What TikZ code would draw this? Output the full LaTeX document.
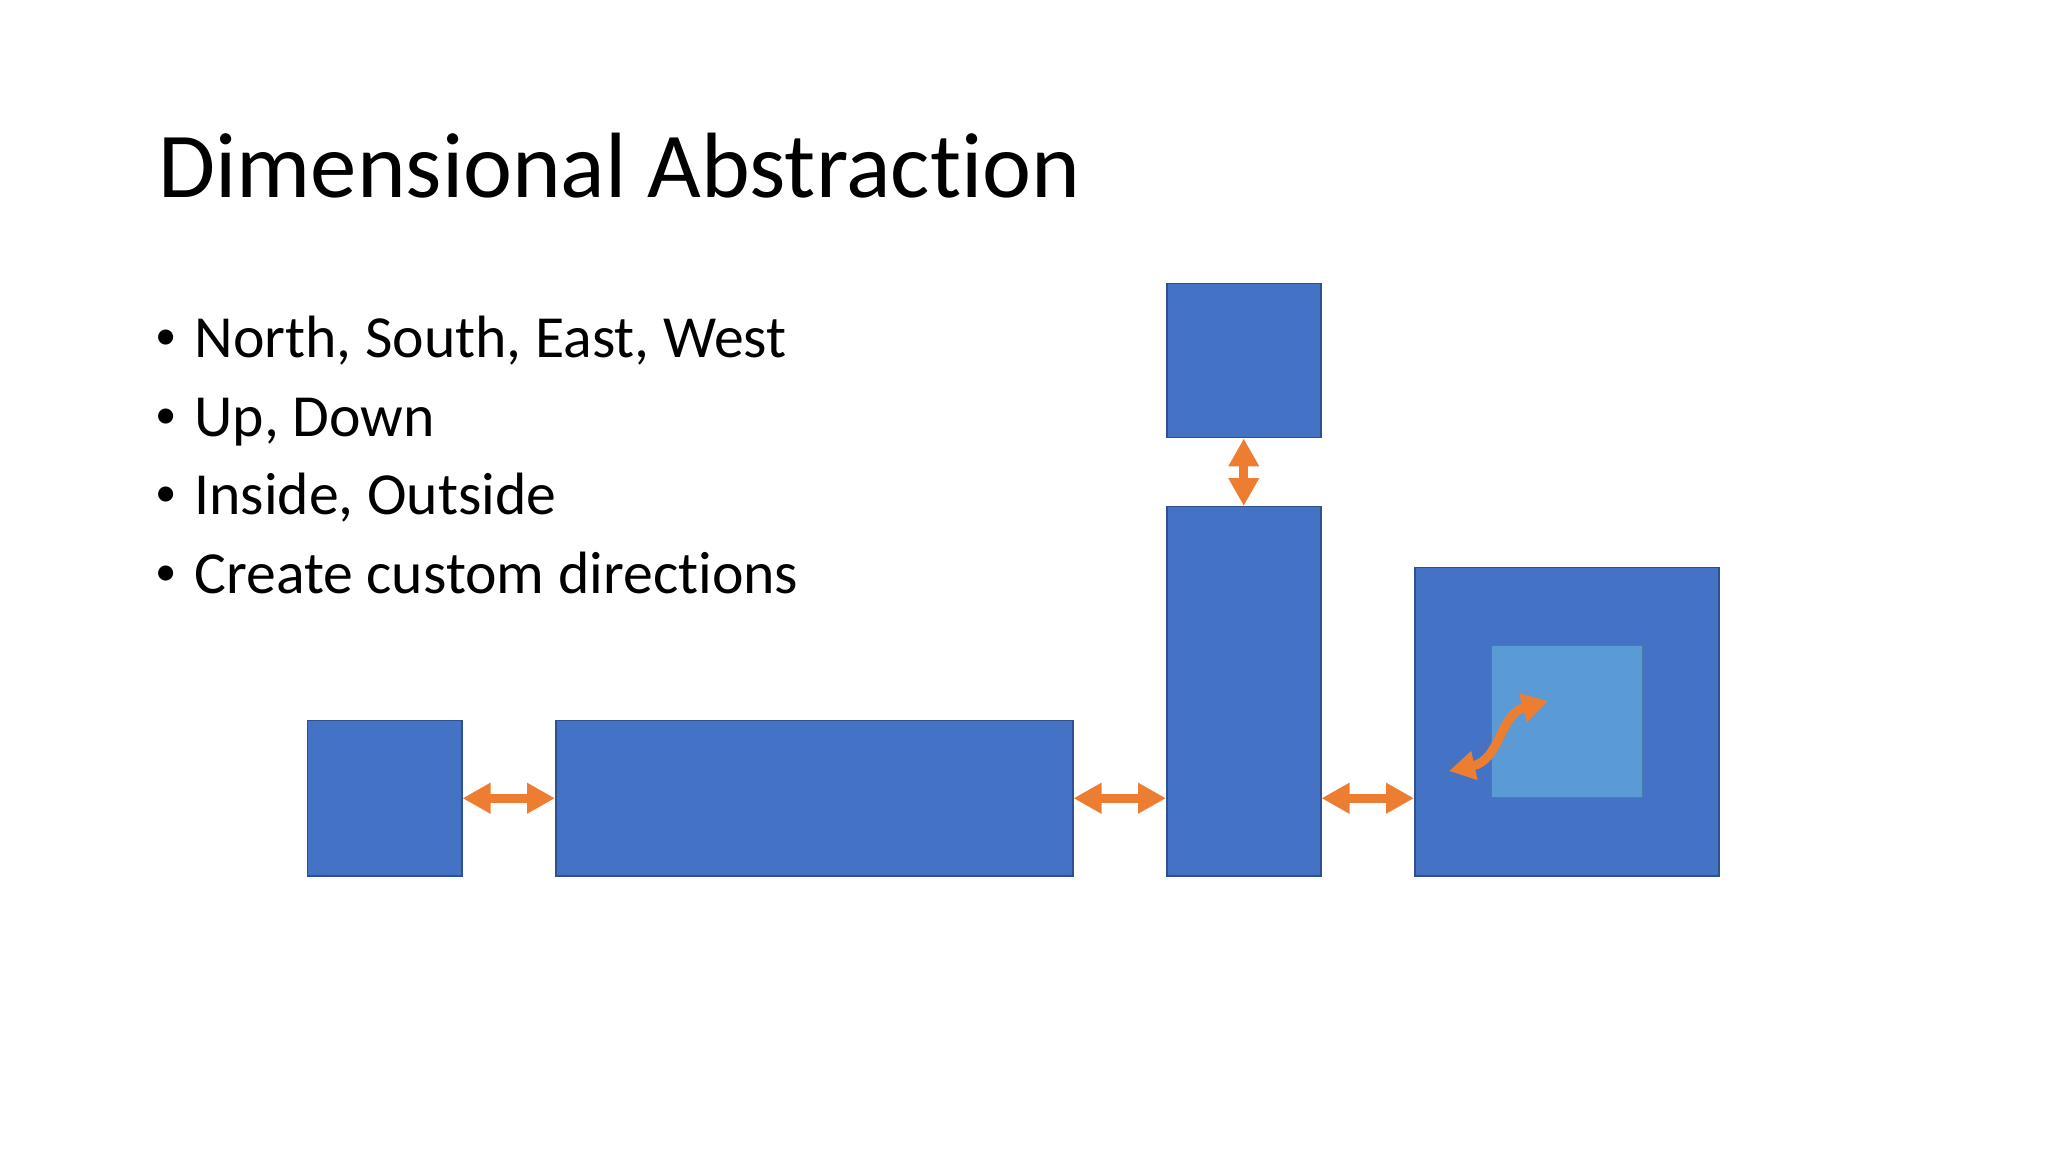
\documentclass[tikz,border=0pt]{standalone}
\usepackage{fontspec}
\setmainfont{Carlito}[Ligatures=NoCommon]
\usetikzlibrary{arrows.meta}
\definecolor{boxblue}{HTML}{4472C4}
\definecolor{boxedge}{HTML}{2F528F}
\definecolor{lightblue}{HTML}{5B9BD5}
\definecolor{arrorange}{HTML}{ED7D31}
\newcommand\px{0.46875pt}
\tikzset{
  box/.style={fill=boxblue, draw=boxedge, line width=0.7pt, inner sep=0pt, anchor=north west},
  innerbox/.style={fill=lightblue, draw=lightblue!80!black, line width=0.4pt, inner sep=0pt, anchor=north west},
  dbl/.style={draw=arrorange, line width=9*\px, line cap=butt,
    {Triangle[length=28*\px, width=29*\px]}-{Triangle[length=28*\px, width=29*\px]}},
  titletext/.style={anchor=base west, inner sep=0pt, font=\fontsize{43.5pt}{50pt}\selectfont},
  bullettext/.style={anchor=base west, inner sep=0pt, font=\fontsize{28pt}{33pt}\selectfont},
  bulletmark/.style={anchor=base, inner sep=0pt, font=\fontsize{20pt}{24pt}\selectfont},
}
\begin{document}
\begin{tikzpicture}[x=\px, y=-\px]
\fill[white] (0,0) rectangle (2048,1152);
\useasboundingbox (0,0) rectangle (2048,1152);
\node[titletext] (title) at (158,198) {Dimensional Abstraction};
\node[bullettext] (l1) at (194,357) {North, South, East, West};
\node[bullettext] (l2) at (194,436) {Up, Down};
\node[bullettext] (l3) at (194,514) {Inside, Outside};
\node[bullettext] (l4) at (194,593) {Create custom directions};
\foreach \yy/\nm in {349/d1,428/d2,506/d3,585/d4}
  \node[bulletmark] (\nm) at (166,\yy) {•};
% boxes
\node[box, minimum width=154*\px, minimum height=155*\px] (b1) at (307,720) {};
\node[box, minimum width=517*\px, minimum height=155*\px] (b2) at (555,720) {};
\node[box, minimum width=154*\px, minimum height=369*\px] (tall) at (1166,506) {};
\node[box, minimum width=154*\px, minimum height=154*\px] (top) at (1166,283) {};
\node[box, minimum width=304*\px, minimum height=308*\px] (big) at (1414,567) {};
\node[innerbox, minimum width=151*\px, minimum height=152*\px] (inner) at (1491,645) {};
% arrows
\draw[dbl] (b1.east) -- (b2.west);
\draw[dbl] (b2.east) -- (b2.east -| tall.west);
\draw[dbl] (tall.east |- b2.east) -- (big.west |- b2.east);
\draw[dbl] (top.south) -- (tall.north);
\coordinate (ca) at (1449,771);
\coordinate (cb) at (1548,701);
\draw[draw=arrorange, line width=9*\px, line cap=butt,
  {Triangle[length=26*\px, width=28*\px]}-{Triangle[length=26*\px, width=28*\px]}]
  (ca) .. controls (1500,760) and (1500,714) .. (cb);
\end{tikzpicture}
\end{document}
